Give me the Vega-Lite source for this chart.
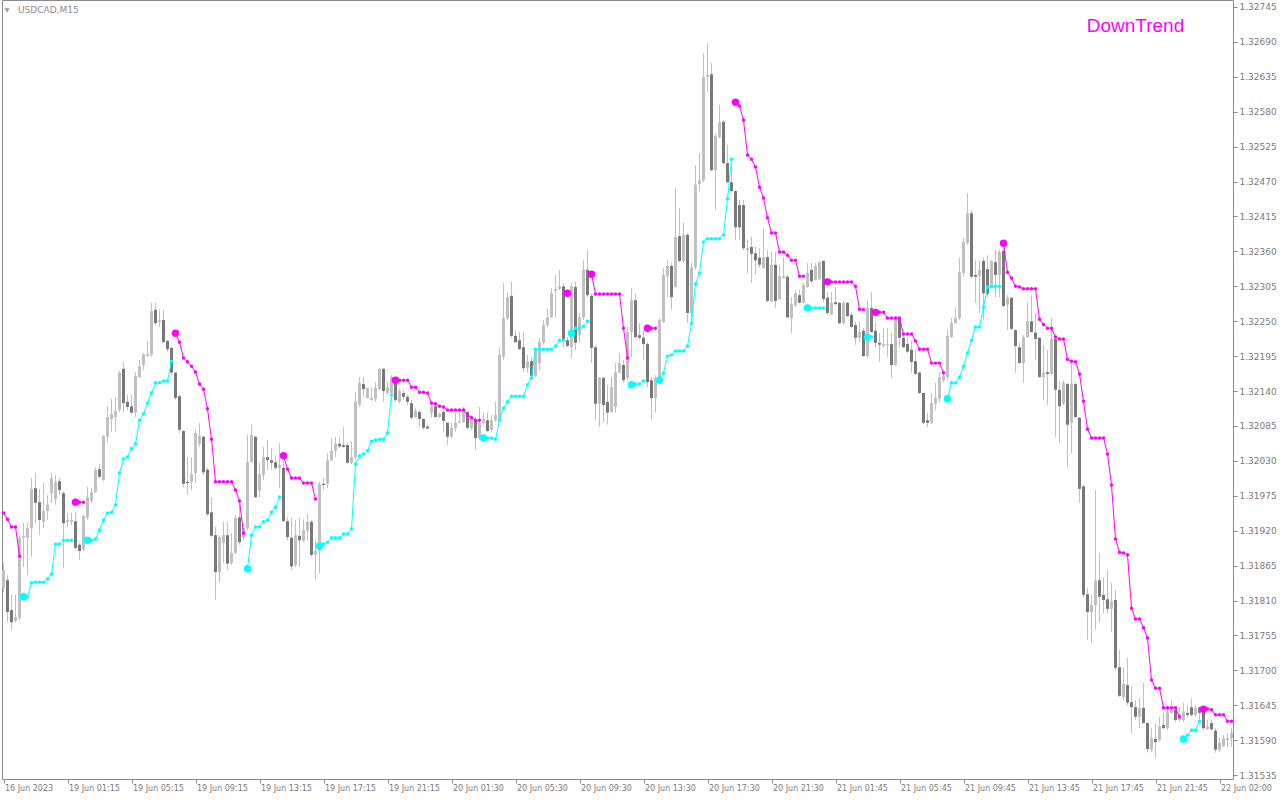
{
"$schema": "https://vega.github.io/schema/vega-lite/v6.json",
"width": 1231, "height": 779,
"autosize": "none",
"padding": {"left": 2, "top": 0, "right": 47, "bottom": 21},
"background": "#ffffff",
"config": {"view": {"stroke": "#8a8a8a", "strokeWidth": 1}, "axis": {"grid": false, "domain": false}},
"datasets": {"k": [
{"i":0,"o":1.31830,"h":1.31869,"l":1.31823,"c":1.31858,"v":1.31948,"d":"dn","g":1,"s":0},
{"i":1,"o":1.31842,"h":1.31850,"l":1.31776,"c":1.31792,"v":1.31938,"d":"dn","g":1,"s":0},
{"i":2,"o":1.31795,"h":1.31819,"l":1.31764,"c":1.31776,"v":1.31926,"d":"dn","g":1,"s":0},
{"i":3,"o":1.31778,"h":1.31819,"l":1.31775,"c":1.31784,"v":1.31926,"d":"dn","g":1,"s":0},
{"i":4,"o":1.31783,"h":1.31912,"l":1.31779,"c":1.31909,"v":1.31880,"d":"dn","g":1,"s":0},
{"i":5,"o":1.31909,"h":1.31932,"l":1.31863,"c":1.31912,"v":1.31816,"d":"up","g":2,"s":1},
{"i":6,"o":1.31909,"h":1.31932,"l":1.31850,"c":1.31924,"v":1.31816,"d":"up","g":2,"s":0},
{"i":7,"o":1.31924,"h":1.32003,"l":1.31879,"c":1.31986,"v":1.31838,"d":"up","g":2,"s":0},
{"i":8,"o":1.31987,"h":1.32011,"l":1.31932,"c":1.31964,"v":1.31839,"d":"up","g":2,"s":0},
{"i":9,"o":1.31965,"h":1.31986,"l":1.31913,"c":1.31937,"v":1.31839,"d":"up","g":2,"s":0},
{"i":10,"o":1.31934,"h":1.31995,"l":1.31924,"c":1.31951,"v":1.31839,"d":"up","g":2,"s":0},
{"i":11,"o":1.31951,"h":1.31976,"l":1.31937,"c":1.31961,"v":1.31844,"d":"up","g":2,"s":0},
{"i":12,"o":1.31979,"h":1.32011,"l":1.31964,"c":1.32003,"v":1.31852,"d":"up","g":2,"s":0},
{"i":13,"o":1.31970,"h":1.32008,"l":1.31961,"c":1.31997,"v":1.31899,"d":"up","g":2,"s":0},
{"i":14,"o":1.31998,"h":1.32003,"l":1.31976,"c":1.31984,"v":1.31899,"d":"up","g":2,"s":0},
{"i":15,"o":1.31979,"h":1.31982,"l":1.31861,"c":1.31932,"v":1.31905,"d":"up","g":2,"s":0},
{"i":16,"o":1.31934,"h":1.31948,"l":1.31926,"c":1.31937,"v":1.31905,"d":"up","g":2,"s":0},
{"i":17,"o":1.31934,"h":1.31948,"l":1.31929,"c":1.31937,"v":1.31905,"d":"up","g":2,"s":0},
{"i":18,"o":1.31935,"h":1.31949,"l":1.31890,"c":1.31893,"v":1.31965,"d":"dn","g":3,"s":1},
{"i":19,"o":1.31898,"h":1.31901,"l":1.31874,"c":1.31888,"v":1.31965,"d":"dn","g":3,"s":0},
{"i":20,"o":1.31890,"h":1.31945,"l":1.31888,"c":1.31943,"v":1.31965,"d":"dn","g":3,"s":0},
{"i":21,"o":1.31941,"h":1.31989,"l":1.31937,"c":1.31973,"v":1.31905,"d":"up","g":4,"s":1},
{"i":22,"o":1.31967,"h":1.31987,"l":1.31964,"c":1.31981,"v":1.31905,"d":"up","g":4,"s":0},
{"i":23,"o":1.31981,"h":1.32020,"l":1.31979,"c":1.32016,"v":1.31907,"d":"up","g":4,"s":0},
{"i":24,"o":1.32017,"h":1.32025,"l":1.32003,"c":1.32005,"v":1.31921,"d":"up","g":4,"s":0},
{"i":25,"o":1.32000,"h":1.32071,"l":1.31998,"c":1.32069,"v":1.31937,"d":"up","g":4,"s":0},
{"i":26,"o":1.32068,"h":1.32116,"l":1.32060,"c":1.32099,"v":1.31948,"d":"up","g":4,"s":0},
{"i":27,"o":1.32096,"h":1.32128,"l":1.32076,"c":1.32104,"v":1.31949,"d":"up","g":4,"s":0},
{"i":28,"o":1.32099,"h":1.32131,"l":1.32076,"c":1.32109,"v":1.31961,"d":"up","g":4,"s":0},
{"i":29,"o":1.32110,"h":1.32172,"l":1.32107,"c":1.32169,"v":1.32011,"d":"up","g":4,"s":0},
{"i":30,"o":1.32175,"h":1.32186,"l":1.32106,"c":1.32121,"v":1.32033,"d":"up","g":4,"s":0},
{"i":31,"o":1.32123,"h":1.32134,"l":1.32110,"c":1.32115,"v":1.32036,"d":"up","g":4,"s":0},
{"i":32,"o":1.32116,"h":1.32134,"l":1.32104,"c":1.32106,"v":1.32049,"d":"up","g":4,"s":0},
{"i":33,"o":1.32106,"h":1.32170,"l":1.32099,"c":1.32164,"v":1.32057,"d":"up","g":4,"s":0},
{"i":34,"o":1.32162,"h":1.32189,"l":1.32161,"c":1.32179,"v":1.32094,"d":"up","g":4,"s":0},
{"i":35,"o":1.32181,"h":1.32200,"l":1.32173,"c":1.32198,"v":1.32104,"d":"up","g":4,"s":0},
{"i":36,"o":1.32195,"h":1.32220,"l":1.32194,"c":1.32198,"v":1.32121,"d":"up","g":4,"s":0},
{"i":37,"o":1.32197,"h":1.32279,"l":1.32194,"c":1.32266,"v":1.32137,"d":"up","g":4,"s":0},
{"i":38,"o":1.32268,"h":1.32279,"l":1.32244,"c":1.32247,"v":1.32153,"d":"up","g":4,"s":0},
{"i":39,"o":1.32249,"h":1.32268,"l":1.32241,"c":1.32252,"v":1.32153,"d":"up","g":4,"s":0},
{"i":40,"o":1.32252,"h":1.32268,"l":1.32216,"c":1.32217,"v":1.32156,"d":"up","g":4,"s":0},
{"i":41,"o":1.32219,"h":1.32220,"l":1.32202,"c":1.32206,"v":1.32156,"d":"up","g":4,"s":0},
{"i":42,"o":1.32208,"h":1.32209,"l":1.32165,"c":1.32169,"v":1.32187,"d":"up","g":4,"s":0},
{"i":43,"o":1.32169,"h":1.32170,"l":1.32126,"c":1.32129,"v":1.32231,"d":"dn","g":5,"s":1},
{"i":44,"o":1.32132,"h":1.32134,"l":1.32074,"c":1.32079,"v":1.32217,"d":"dn","g":5,"s":0},
{"i":45,"o":1.32077,"h":1.32079,"l":1.31989,"c":1.31994,"v":1.32192,"d":"dn","g":5,"s":0},
{"i":46,"o":1.31997,"h":1.32036,"l":1.31976,"c":1.31995,"v":1.32186,"d":"dn","g":5,"s":0},
{"i":47,"o":1.31997,"h":1.32036,"l":1.31984,"c":1.32009,"v":1.32179,"d":"dn","g":5,"s":0},
{"i":48,"o":1.32011,"h":1.32079,"l":1.31995,"c":1.32074,"v":1.32170,"d":"dn","g":5,"s":0},
{"i":49,"o":1.32057,"h":1.32090,"l":1.32052,"c":1.32069,"v":1.32151,"d":"dn","g":5,"s":0},
{"i":50,"o":1.32068,"h":1.32070,"l":1.32008,"c":1.32012,"v":1.32143,"d":"dn","g":5,"s":0},
{"i":51,"o":1.32016,"h":1.32019,"l":1.31943,"c":1.31946,"v":1.32112,"d":"dn","g":5,"s":0},
{"i":52,"o":1.31949,"h":1.31973,"l":1.31910,"c":1.31912,"v":1.32064,"d":"dn","g":5,"s":0},
{"i":53,"o":1.31913,"h":1.31926,"l":1.31811,"c":1.31855,"v":1.31997,"d":"dn","g":5,"s":0},
{"i":54,"o":1.31855,"h":1.31912,"l":1.31838,"c":1.31910,"v":1.31997,"d":"dn","g":5,"s":0},
{"i":55,"o":1.31901,"h":1.31934,"l":1.31869,"c":1.31913,"v":1.31997,"d":"dn","g":5,"s":0},
{"i":56,"o":1.31913,"h":1.31934,"l":1.31858,"c":1.31868,"v":1.31997,"d":"dn","g":5,"s":0},
{"i":57,"o":1.31869,"h":1.31916,"l":1.31866,"c":1.31885,"v":1.31997,"d":"dn","g":5,"s":0},
{"i":58,"o":1.31885,"h":1.31945,"l":1.31883,"c":1.31940,"v":1.31984,"d":"dn","g":5,"s":0},
{"i":59,"o":1.31941,"h":1.31961,"l":1.31898,"c":1.31902,"v":1.31967,"d":"dn","g":5,"s":0},
{"i":60,"o":1.31909,"h":1.31932,"l":1.31905,"c":1.31924,"v":1.31916,"d":"dn","g":5,"s":0},
{"i":61,"o":1.31924,"h":1.32071,"l":1.31921,"c":1.32028,"v":1.31860,"d":"up","g":6,"s":1},
{"i":62,"o":1.32028,"h":1.32087,"l":1.32027,"c":1.32071,"v":1.31913,"d":"up","g":6,"s":0},
{"i":63,"o":1.32068,"h":1.32070,"l":1.31971,"c":1.31973,"v":1.31926,"d":"up","g":6,"s":0},
{"i":64,"o":1.31983,"h":1.32027,"l":1.31973,"c":1.32009,"v":1.31926,"d":"up","g":6,"s":0},
{"i":65,"o":1.32008,"h":1.32052,"l":1.32000,"c":1.32036,"v":1.31934,"d":"up","g":6,"s":0},
{"i":66,"o":1.32036,"h":1.32063,"l":1.32016,"c":1.32031,"v":1.31937,"d":"up","g":6,"s":0},
{"i":67,"o":1.32031,"h":1.32050,"l":1.32016,"c":1.32027,"v":1.31949,"d":"up","g":6,"s":0},
{"i":68,"o":1.32028,"h":1.32039,"l":1.32016,"c":1.32019,"v":1.31957,"d":"up","g":6,"s":0},
{"i":69,"o":1.32019,"h":1.32058,"l":1.31987,"c":1.32024,"v":1.31973,"d":"up","g":6,"s":0},
{"i":70,"o":1.32019,"h":1.32031,"l":1.31934,"c":1.31935,"v":1.32038,"d":"dn","g":7,"s":1},
{"i":71,"o":1.31935,"h":1.31941,"l":1.31905,"c":1.31910,"v":1.32017,"d":"dn","g":7,"s":0},
{"i":72,"o":1.31909,"h":1.31941,"l":1.31858,"c":1.31864,"v":1.32003,"d":"dn","g":7,"s":0},
{"i":73,"o":1.31866,"h":1.31937,"l":1.31863,"c":1.31913,"v":1.32003,"d":"dn","g":7,"s":0},
{"i":74,"o":1.31912,"h":1.31941,"l":1.31863,"c":1.31905,"v":1.32003,"d":"dn","g":7,"s":0},
{"i":75,"o":1.31904,"h":1.31938,"l":1.31902,"c":1.31921,"v":1.31995,"d":"dn","g":7,"s":0},
{"i":76,"o":1.31920,"h":1.31946,"l":1.31905,"c":1.31934,"v":1.31995,"d":"dn","g":7,"s":0},
{"i":77,"o":1.31934,"h":1.31937,"l":1.31879,"c":1.31882,"v":1.31995,"d":"dn","g":7,"s":0},
{"i":78,"o":1.31882,"h":1.31905,"l":1.31842,"c":1.31888,"v":1.31970,"d":"dn","g":7,"s":0},
{"i":79,"o":1.31888,"h":1.31997,"l":1.31853,"c":1.31994,"v":1.31896,"d":"up","g":8,"s":1},
{"i":80,"o":1.31994,"h":1.32003,"l":1.31984,"c":1.31992,"v":1.31899,"d":"up","g":8,"s":0},
{"i":81,"o":1.31994,"h":1.32042,"l":1.31987,"c":1.32031,"v":1.31902,"d":"up","g":8,"s":0},
{"i":82,"o":1.32031,"h":1.32066,"l":1.32030,"c":1.32046,"v":1.31909,"d":"up","g":8,"s":0},
{"i":83,"o":1.32046,"h":1.32068,"l":1.32036,"c":1.32057,"v":1.31909,"d":"up","g":8,"s":0},
{"i":84,"o":1.32057,"h":1.32068,"l":1.32050,"c":1.32053,"v":1.31909,"d":"up","g":8,"s":0},
{"i":85,"o":1.32055,"h":1.32083,"l":1.32051,"c":1.32052,"v":1.31915,"d":"up","g":8,"s":0},
{"i":86,"o":1.32055,"h":1.32058,"l":1.32025,"c":1.32027,"v":1.31915,"d":"up","g":8,"s":0},
{"i":87,"o":1.32027,"h":1.32060,"l":1.32025,"c":1.32036,"v":1.31923,"d":"up","g":8,"s":0},
{"i":88,"o":1.32036,"h":1.32138,"l":1.32031,"c":1.32123,"v":1.32025,"d":"up","g":8,"s":0},
{"i":89,"o":1.32118,"h":1.32162,"l":1.32115,"c":1.32153,"v":1.32038,"d":"up","g":8,"s":0},
{"i":90,"o":1.32151,"h":1.32162,"l":1.32131,"c":1.32143,"v":1.32041,"d":"up","g":8,"s":0},
{"i":91,"o":1.32129,"h":1.32146,"l":1.32128,"c":1.32145,"v":1.32046,"d":"up","g":8,"s":0},
{"i":92,"o":1.32126,"h":1.32146,"l":1.32125,"c":1.32129,"v":1.32061,"d":"up","g":8,"s":0},
{"i":93,"o":1.32128,"h":1.32154,"l":1.32123,"c":1.32145,"v":1.32063,"d":"up","g":8,"s":0},
{"i":94,"o":1.32143,"h":1.32176,"l":1.32142,"c":1.32175,"v":1.32064,"d":"up","g":8,"s":0},
{"i":95,"o":1.32175,"h":1.32176,"l":1.32123,"c":1.32140,"v":1.32064,"d":"up","g":8,"s":0},
{"i":96,"o":1.32137,"h":1.32154,"l":1.32134,"c":1.32146,"v":1.32074,"d":"up","g":8,"s":0},
{"i":97,"o":1.32137,"h":1.32165,"l":1.32123,"c":1.32162,"v":1.32134,"d":"up","g":8,"s":0},
{"i":98,"o":1.32161,"h":1.32162,"l":1.32123,"c":1.32126,"v":1.32157,"d":"dn","g":9,"s":1},
{"i":99,"o":1.32123,"h":1.32145,"l":1.32121,"c":1.32140,"v":1.32157,"d":"dn","g":9,"s":0},
{"i":100,"o":1.32137,"h":1.32142,"l":1.32126,"c":1.32131,"v":1.32157,"d":"dn","g":9,"s":0},
{"i":101,"o":1.32131,"h":1.32134,"l":1.32118,"c":1.32123,"v":1.32157,"d":"dn","g":9,"s":0},
{"i":102,"o":1.32121,"h":1.32126,"l":1.32094,"c":1.32098,"v":1.32146,"d":"dn","g":9,"s":0},
{"i":103,"o":1.32099,"h":1.32113,"l":1.32098,"c":1.32109,"v":1.32146,"d":"dn","g":9,"s":0},
{"i":104,"o":1.32107,"h":1.32110,"l":1.32083,"c":1.32096,"v":1.32138,"d":"dn","g":9,"s":0},
{"i":105,"o":1.32096,"h":1.32098,"l":1.32079,"c":1.32082,"v":1.32138,"d":"dn","g":9,"s":0},
{"i":106,"o":1.32084,"h":1.32087,"l":1.32080,"c":1.32081,"v":1.32137,"d":"dn","g":9,"s":0},
{"i":107,"o":1.32106,"h":1.32121,"l":1.32098,"c":1.32115,"v":1.32121,"d":"dn","g":9,"s":0},
{"i":108,"o":1.32116,"h":1.32121,"l":1.32098,"c":1.32099,"v":1.32120,"d":"dn","g":9,"s":0},
{"i":109,"o":1.32099,"h":1.32106,"l":1.32098,"c":1.32104,"v":1.32116,"d":"dn","g":9,"s":0},
{"i":110,"o":1.32107,"h":1.32113,"l":1.32076,"c":1.32093,"v":1.32115,"d":"dn","g":9,"s":0},
{"i":111,"o":1.32090,"h":1.32091,"l":1.32055,"c":1.32068,"v":1.32110,"d":"dn","g":9,"s":0},
{"i":112,"o":1.32068,"h":1.32090,"l":1.32066,"c":1.32082,"v":1.32110,"d":"dn","g":9,"s":0},
{"i":113,"o":1.32082,"h":1.32106,"l":1.32076,"c":1.32090,"v":1.32110,"d":"dn","g":9,"s":0},
{"i":114,"o":1.32090,"h":1.32106,"l":1.32089,"c":1.32092,"v":1.32110,"d":"dn","g":9,"s":0},
{"i":115,"o":1.32091,"h":1.32115,"l":1.32090,"c":1.32107,"v":1.32110,"d":"dn","g":9,"s":0},
{"i":116,"o":1.32107,"h":1.32108,"l":1.32081,"c":1.32082,"v":1.32102,"d":"dn","g":9,"s":0},
{"i":117,"o":1.32082,"h":1.32102,"l":1.32079,"c":1.32096,"v":1.32098,"d":"dn","g":9,"s":0},
{"i":118,"o":1.32094,"h":1.32099,"l":1.32047,"c":1.32066,"v":1.32094,"d":"dn","g":9,"s":0},
{"i":119,"o":1.32066,"h":1.32115,"l":1.32063,"c":1.32090,"v":1.32094,"d":"dn","g":9,"s":0},
{"i":120,"o":1.32090,"h":1.32106,"l":1.32089,"c":1.32096,"v":1.32066,"d":"up","g":10,"s":1},
{"i":121,"o":1.32094,"h":1.32106,"l":1.32076,"c":1.32077,"v":1.32066,"d":"up","g":10,"s":0},
{"i":122,"o":1.32079,"h":1.32102,"l":1.32076,"c":1.32094,"v":1.32066,"d":"up","g":10,"s":0},
{"i":123,"o":1.32094,"h":1.32123,"l":1.32091,"c":1.32102,"v":1.32064,"d":"up","g":10,"s":0},
{"i":124,"o":1.32094,"h":1.32209,"l":1.32091,"c":1.32197,"v":1.32094,"d":"up","g":10,"s":0},
{"i":125,"o":1.32194,"h":1.32310,"l":1.32189,"c":1.32255,"v":1.32113,"d":"up","g":10,"s":0},
{"i":126,"o":1.32255,"h":1.32296,"l":1.32252,"c":1.32288,"v":1.32123,"d":"up","g":10,"s":0},
{"i":127,"o":1.32290,"h":1.32312,"l":1.32224,"c":1.32227,"v":1.32132,"d":"up","g":10,"s":0},
{"i":128,"o":1.32227,"h":1.32236,"l":1.32216,"c":1.32217,"v":1.32132,"d":"up","g":10,"s":0},
{"i":129,"o":1.32220,"h":1.32233,"l":1.32205,"c":1.32206,"v":1.32132,"d":"up","g":10,"s":0},
{"i":130,"o":1.32209,"h":1.32233,"l":1.32170,"c":1.32176,"v":1.32132,"d":"up","g":10,"s":0},
{"i":131,"o":1.32176,"h":1.32197,"l":1.32169,"c":1.32187,"v":1.32150,"d":"up","g":10,"s":0},
{"i":132,"o":1.32187,"h":1.32194,"l":1.32161,"c":1.32164,"v":1.32161,"d":"up","g":10,"s":0},
{"i":133,"o":1.32164,"h":1.32208,"l":1.32162,"c":1.32205,"v":1.32206,"d":"up","g":10,"s":0},
{"i":134,"o":1.32184,"h":1.32224,"l":1.32173,"c":1.32217,"v":1.32206,"d":"up","g":10,"s":0},
{"i":135,"o":1.32216,"h":1.32252,"l":1.32213,"c":1.32244,"v":1.32206,"d":"up","g":10,"s":0},
{"i":136,"o":1.32244,"h":1.32271,"l":1.32241,"c":1.32256,"v":1.32206,"d":"up","g":10,"s":0},
{"i":137,"o":1.32256,"h":1.32302,"l":1.32255,"c":1.32294,"v":1.32206,"d":"up","g":10,"s":0},
{"i":138,"o":1.32298,"h":1.32323,"l":1.32256,"c":1.32301,"v":1.32211,"d":"up","g":10,"s":0},
{"i":139,"o":1.32301,"h":1.32331,"l":1.32299,"c":1.32305,"v":1.32220,"d":"up","g":10,"s":0},
{"i":140,"o":1.32305,"h":1.32310,"l":1.32209,"c":1.32220,"v":1.32220,"d":"up","g":10,"s":0},
{"i":141,"o":1.32220,"h":1.32225,"l":1.32209,"c":1.32211,"v":1.32294,"d":"dn","g":11,"s":1},
{"i":142,"o":1.32209,"h":1.32310,"l":1.32192,"c":1.32305,"v":1.32231,"d":"up","g":12,"s":1},
{"i":143,"o":1.32304,"h":1.32312,"l":1.32205,"c":1.32216,"v":1.32239,"d":"up","g":12,"s":0},
{"i":144,"o":1.32228,"h":1.32263,"l":1.32216,"c":1.32256,"v":1.32239,"d":"up","g":12,"s":0},
{"i":145,"o":1.32256,"h":1.32346,"l":1.32252,"c":1.32331,"v":1.32242,"d":"up","g":12,"s":0},
{"i":146,"o":1.32331,"h":1.32362,"l":1.32288,"c":1.32291,"v":1.32250,"d":"up","g":12,"s":0},
{"i":147,"o":1.32290,"h":1.32294,"l":1.32184,"c":1.32208,"v":1.32324,"d":"dn","g":13,"s":1},
{"i":148,"o":1.32209,"h":1.32213,"l":1.32094,"c":1.32120,"v":1.32293,"d":"dn","g":13,"s":0},
{"i":149,"o":1.32120,"h":1.32162,"l":1.32083,"c":1.32161,"v":1.32293,"d":"dn","g":13,"s":0},
{"i":150,"o":1.32161,"h":1.32162,"l":1.32091,"c":1.32118,"v":1.32293,"d":"dn","g":13,"s":0},
{"i":151,"o":1.32123,"h":1.32150,"l":1.32087,"c":1.32106,"v":1.32293,"d":"dn","g":13,"s":0},
{"i":152,"o":1.32107,"h":1.32162,"l":1.32106,"c":1.32146,"v":1.32293,"d":"dn","g":13,"s":0},
{"i":153,"o":1.32115,"h":1.32184,"l":1.32106,"c":1.32170,"v":1.32293,"d":"dn","g":13,"s":0},
{"i":154,"o":1.32169,"h":1.32200,"l":1.32168,"c":1.32184,"v":1.32293,"d":"dn","g":13,"s":0},
{"i":155,"o":1.32181,"h":1.32189,"l":1.32153,"c":1.32157,"v":1.32239,"d":"dn","g":13,"s":0},
{"i":156,"o":1.32161,"h":1.32241,"l":1.32157,"c":1.32233,"v":1.32192,"d":"dn","g":13,"s":0},
{"i":157,"o":1.32233,"h":1.32302,"l":1.32194,"c":1.32283,"v":1.32150,"d":"up","g":14,"s":1},
{"i":158,"o":1.32283,"h":1.32294,"l":1.32224,"c":1.32225,"v":1.32151,"d":"up","g":14,"s":0},
{"i":159,"o":1.32228,"h":1.32247,"l":1.32220,"c":1.32224,"v":1.32151,"d":"up","g":14,"s":0},
{"i":160,"o":1.32224,"h":1.32236,"l":1.32189,"c":1.32214,"v":1.32156,"d":"up","g":14,"s":0},
{"i":161,"o":1.32214,"h":1.32217,"l":1.32146,"c":1.32154,"v":1.32239,"d":"dn","g":15,"s":1},
{"i":162,"o":1.32157,"h":1.32162,"l":1.32094,"c":1.32129,"v":1.32239,"d":"dn","g":15,"s":0},
{"i":163,"o":1.32129,"h":1.32165,"l":1.32106,"c":1.32161,"v":1.32239,"d":"dn","g":15,"s":0},
{"i":164,"o":1.32161,"h":1.32255,"l":1.32157,"c":1.32252,"v":1.32157,"d":"up","g":16,"s":1},
{"i":165,"o":1.32249,"h":1.32334,"l":1.32247,"c":1.32323,"v":1.32168,"d":"up","g":16,"s":0},
{"i":166,"o":1.32321,"h":1.32346,"l":1.32288,"c":1.32337,"v":1.32195,"d":"up","g":16,"s":0},
{"i":167,"o":1.32337,"h":1.32342,"l":1.32268,"c":1.32288,"v":1.32197,"d":"up","g":16,"s":0},
{"i":168,"o":1.32304,"h":1.32460,"l":1.32302,"c":1.32383,"v":1.32203,"d":"up","g":16,"s":0},
{"i":169,"o":1.32384,"h":1.32428,"l":1.32342,"c":1.32345,"v":1.32203,"d":"up","g":16,"s":0},
{"i":170,"o":1.32345,"h":1.32405,"l":1.32342,"c":1.32386,"v":1.32203,"d":"up","g":16,"s":0},
{"i":171,"o":1.32386,"h":1.32389,"l":1.32247,"c":1.32263,"v":1.32211,"d":"up","g":16,"s":0},
{"i":172,"o":1.32263,"h":1.32342,"l":1.32247,"c":1.32335,"v":1.32247,"d":"up","g":16,"s":0},
{"i":173,"o":1.32335,"h":1.32496,"l":1.32331,"c":1.32465,"v":1.32309,"d":"up","g":16,"s":0},
{"i":174,"o":1.32466,"h":1.32515,"l":1.32454,"c":1.32472,"v":1.32326,"d":"up","g":16,"s":0},
{"i":175,"o":1.32472,"h":1.32672,"l":1.32469,"c":1.32635,"v":1.32375,"d":"up","g":16,"s":0},
{"i":176,"o":1.32635,"h":1.32688,"l":1.32611,"c":1.32638,"v":1.32380,"d":"up","g":16,"s":0},
{"i":177,"o":1.32639,"h":1.32657,"l":1.32486,"c":1.32488,"v":1.32380,"d":"up","g":16,"s":0},
{"i":178,"o":1.32488,"h":1.32546,"l":1.32425,"c":1.32542,"v":1.32380,"d":"up","g":16,"s":0},
{"i":179,"o":1.32540,"h":1.32591,"l":1.32538,"c":1.32564,"v":1.32380,"d":"up","g":16,"s":0},
{"i":180,"o":1.32564,"h":1.32567,"l":1.32497,"c":1.32499,"v":1.32386,"d":"up","g":16,"s":0},
{"i":181,"o":1.32499,"h":1.32528,"l":1.32467,"c":1.32469,"v":1.32443,"d":"up","g":16,"s":0},
{"i":182,"o":1.32469,"h":1.32499,"l":1.32452,"c":1.32455,"v":1.32505,"d":"up","g":16,"s":0},
{"i":183,"o":1.32455,"h":1.32457,"l":1.32378,"c":1.32398,"v":1.32595,"d":"dn","g":17,"s":1},
{"i":184,"o":1.32433,"h":1.32441,"l":1.32378,"c":1.32398,"v":1.32589,"d":"dn","g":17,"s":0},
{"i":185,"o":1.32433,"h":1.32441,"l":1.32362,"c":1.32365,"v":1.32567,"d":"dn","g":17,"s":0},
{"i":186,"o":1.32362,"h":1.32378,"l":1.32326,"c":1.32365,"v":1.32512,"d":"dn","g":17,"s":0},
{"i":187,"o":1.32367,"h":1.32383,"l":1.32310,"c":1.32356,"v":1.32505,"d":"dn","g":17,"s":0},
{"i":188,"o":1.32357,"h":1.32367,"l":1.32323,"c":1.32346,"v":1.32493,"d":"dn","g":17,"s":0},
{"i":189,"o":1.32350,"h":1.32365,"l":1.32334,"c":1.32339,"v":1.32461,"d":"dn","g":17,"s":0},
{"i":190,"o":1.32334,"h":1.32397,"l":1.32333,"c":1.32351,"v":1.32444,"d":"dn","g":17,"s":0},
{"i":191,"o":1.32351,"h":1.32362,"l":1.32280,"c":1.32282,"v":1.32413,"d":"dn","g":17,"s":0},
{"i":192,"o":1.32282,"h":1.32359,"l":1.32280,"c":1.32339,"v":1.32389,"d":"dn","g":17,"s":0},
{"i":193,"o":1.32339,"h":1.32359,"l":1.32271,"c":1.32282,"v":1.32389,"d":"dn","g":17,"s":0},
{"i":194,"o":1.32285,"h":1.32339,"l":1.32283,"c":1.32321,"v":1.32359,"d":"dn","g":17,"s":0},
{"i":195,"o":1.32318,"h":1.32351,"l":1.32317,"c":1.32321,"v":1.32359,"d":"dn","g":17,"s":0},
{"i":196,"o":1.32320,"h":1.32323,"l":1.32255,"c":1.32256,"v":1.32354,"d":"dn","g":17,"s":0},
{"i":197,"o":1.32255,"h":1.32288,"l":1.32231,"c":1.32277,"v":1.32346,"d":"dn","g":17,"s":0},
{"i":198,"o":1.32275,"h":1.32299,"l":1.32272,"c":1.32294,"v":1.32346,"d":"dn","g":17,"s":0},
{"i":199,"o":1.32291,"h":1.32299,"l":1.32278,"c":1.32279,"v":1.32321,"d":"dn","g":17,"s":0},
{"i":200,"o":1.32279,"h":1.32310,"l":1.32278,"c":1.32307,"v":1.32321,"d":"dn","g":17,"s":0},
{"i":201,"o":1.32304,"h":1.32342,"l":1.32302,"c":1.32326,"v":1.32271,"d":"up","g":18,"s":1},
{"i":202,"o":1.32331,"h":1.32342,"l":1.32310,"c":1.32313,"v":1.32271,"d":"up","g":18,"s":0},
{"i":203,"o":1.32315,"h":1.32342,"l":1.32314,"c":1.32337,"v":1.32271,"d":"up","g":18,"s":0},
{"i":204,"o":1.32316,"h":1.32345,"l":1.32315,"c":1.32343,"v":1.32271,"d":"up","g":18,"s":0},
{"i":205,"o":1.32345,"h":1.32346,"l":1.32280,"c":1.32285,"v":1.32271,"d":"up","g":18,"s":0},
{"i":206,"o":1.32287,"h":1.32296,"l":1.32260,"c":1.32263,"v":1.32312,"d":"dn","g":19,"s":1},
{"i":207,"o":1.32261,"h":1.32296,"l":1.32260,"c":1.32279,"v":1.32312,"d":"dn","g":19,"s":0},
{"i":208,"o":1.32280,"h":1.32304,"l":1.32275,"c":1.32277,"v":1.32312,"d":"dn","g":19,"s":0},
{"i":209,"o":1.32279,"h":1.32280,"l":1.32245,"c":1.32247,"v":1.32312,"d":"dn","g":19,"s":0},
{"i":210,"o":1.32247,"h":1.32281,"l":1.32245,"c":1.32279,"v":1.32312,"d":"dn","g":19,"s":0},
{"i":211,"o":1.32279,"h":1.32280,"l":1.32256,"c":1.32258,"v":1.32312,"d":"dn","g":19,"s":0},
{"i":212,"o":1.32260,"h":1.32264,"l":1.32240,"c":1.32241,"v":1.32312,"d":"dn","g":19,"s":0},
{"i":213,"o":1.32244,"h":1.32249,"l":1.32213,"c":1.32224,"v":1.32305,"d":"dn","g":19,"s":0},
{"i":214,"o":1.32224,"h":1.32249,"l":1.32217,"c":1.32233,"v":1.32269,"d":"dn","g":19,"s":0},
{"i":215,"o":1.32235,"h":1.32239,"l":1.32194,"c":1.32195,"v":1.32268,"d":"dn","g":19,"s":0},
{"i":216,"o":1.32195,"h":1.32283,"l":1.32192,"c":1.32271,"v":1.32225,"d":"up","g":20,"s":1},
{"i":217,"o":1.32271,"h":1.32296,"l":1.32232,"c":1.32233,"v":1.32225,"d":"up","g":20,"s":0},
{"i":218,"o":1.32235,"h":1.32249,"l":1.32209,"c":1.32216,"v":1.32264,"d":"dn","g":21,"s":1},
{"i":219,"o":1.32216,"h":1.32232,"l":1.32186,"c":1.32213,"v":1.32264,"d":"dn","g":21,"s":0},
{"i":220,"o":1.32211,"h":1.32239,"l":1.32209,"c":1.32214,"v":1.32264,"d":"dn","g":21,"s":0},
{"i":221,"o":1.32212,"h":1.32239,"l":1.32194,"c":1.32214,"v":1.32255,"d":"dn","g":21,"s":0},
{"i":222,"o":1.32214,"h":1.32232,"l":1.32161,"c":1.32181,"v":1.32255,"d":"dn","g":21,"s":0},
{"i":223,"o":1.32181,"h":1.32257,"l":1.32179,"c":1.32255,"v":1.32255,"d":"dn","g":21,"s":0},
{"i":224,"o":1.32255,"h":1.32257,"l":1.32208,"c":1.32224,"v":1.32255,"d":"dn","g":21,"s":0},
{"i":225,"o":1.32224,"h":1.32232,"l":1.32208,"c":1.32209,"v":1.32230,"d":"dn","g":21,"s":0},
{"i":226,"o":1.32214,"h":1.32225,"l":1.32200,"c":1.32202,"v":1.32230,"d":"dn","g":21,"s":0},
{"i":227,"o":1.32205,"h":1.32220,"l":1.32169,"c":1.32186,"v":1.32230,"d":"dn","g":21,"s":0},
{"i":228,"o":1.32187,"h":1.32205,"l":1.32165,"c":1.32167,"v":1.32219,"d":"dn","g":21,"s":0},
{"i":229,"o":1.32169,"h":1.32170,"l":1.32135,"c":1.32137,"v":1.32206,"d":"dn","g":21,"s":0},
{"i":230,"o":1.32137,"h":1.32138,"l":1.32088,"c":1.32090,"v":1.32206,"d":"dn","g":21,"s":0},
{"i":231,"o":1.32094,"h":1.32106,"l":1.32083,"c":1.32090,"v":1.32206,"d":"dn","g":21,"s":0},
{"i":232,"o":1.32090,"h":1.32137,"l":1.32088,"c":1.32121,"v":1.32184,"d":"dn","g":21,"s":0},
{"i":233,"o":1.32120,"h":1.32153,"l":1.32110,"c":1.32129,"v":1.32184,"d":"dn","g":21,"s":0},
{"i":234,"o":1.32128,"h":1.32169,"l":1.32123,"c":1.32162,"v":1.32184,"d":"dn","g":21,"s":0},
{"i":235,"o":1.32157,"h":1.32170,"l":1.32154,"c":1.32164,"v":1.32169,"d":"dn","g":21,"s":0},
{"i":236,"o":1.32162,"h":1.32236,"l":1.32157,"c":1.32227,"v":1.32128,"d":"up","g":22,"s":1},
{"i":237,"o":1.32225,"h":1.32255,"l":1.32224,"c":1.32247,"v":1.32153,"d":"up","g":22,"s":0},
{"i":238,"o":1.32247,"h":1.32272,"l":1.32246,"c":1.32255,"v":1.32153,"d":"up","g":22,"s":0},
{"i":239,"o":1.32255,"h":1.32350,"l":1.32252,"c":1.32327,"v":1.32162,"d":"up","g":22,"s":0},
{"i":240,"o":1.32326,"h":1.32381,"l":1.32320,"c":1.32375,"v":1.32179,"d":"up","g":22,"s":0},
{"i":241,"o":1.32373,"h":1.32452,"l":1.32370,"c":1.32420,"v":1.32200,"d":"up","g":22,"s":0},
{"i":242,"o":1.32420,"h":1.32425,"l":1.32318,"c":1.32320,"v":1.32220,"d":"up","g":22,"s":0},
{"i":243,"o":1.32323,"h":1.32346,"l":1.32279,"c":1.32320,"v":1.32241,"d":"up","g":22,"s":0},
{"i":244,"o":1.32321,"h":1.32346,"l":1.32263,"c":1.32331,"v":1.32241,"d":"up","g":22,"s":0},
{"i":245,"o":1.32345,"h":1.32350,"l":1.32252,"c":1.32294,"v":1.32272,"d":"up","g":22,"s":0},
{"i":246,"o":1.32332,"h":1.32354,"l":1.32288,"c":1.32293,"v":1.32304,"d":"up","g":22,"s":0},
{"i":247,"o":1.32305,"h":1.32346,"l":1.32304,"c":1.32345,"v":1.32304,"d":"up","g":22,"s":0},
{"i":248,"o":1.32343,"h":1.32362,"l":1.32288,"c":1.32323,"v":1.32305,"d":"up","g":22,"s":0},
{"i":249,"o":1.32323,"h":1.32362,"l":1.32288,"c":1.32359,"v":1.32305,"d":"up","g":22,"s":0},
{"i":250,"o":1.32361,"h":1.32365,"l":1.32272,"c":1.32274,"v":1.32373,"d":"dn","g":23,"s":1},
{"i":251,"o":1.32276,"h":1.32291,"l":1.32236,"c":1.32287,"v":1.32327,"d":"dn","g":23,"s":0},
{"i":252,"o":1.32287,"h":1.32288,"l":1.32236,"c":1.32238,"v":1.32318,"d":"dn","g":23,"s":0},
{"i":253,"o":1.32236,"h":1.32237,"l":1.32169,"c":1.32211,"v":1.32305,"d":"dn","g":23,"s":0},
{"i":254,"o":1.32209,"h":1.32216,"l":1.32183,"c":1.32184,"v":1.32304,"d":"dn","g":23,"s":0},
{"i":255,"o":1.32184,"h":1.32228,"l":1.32153,"c":1.32225,"v":1.32301,"d":"dn","g":23,"s":0},
{"i":256,"o":1.32225,"h":1.32279,"l":1.32224,"c":1.32250,"v":1.32301,"d":"dn","g":23,"s":0},
{"i":257,"o":1.32250,"h":1.32291,"l":1.32232,"c":1.32233,"v":1.32301,"d":"dn","g":23,"s":0},
{"i":258,"o":1.32232,"h":1.32263,"l":1.32189,"c":1.32222,"v":1.32301,"d":"dn","g":23,"s":0},
{"i":259,"o":1.32224,"h":1.32225,"l":1.32161,"c":1.32162,"v":1.32253,"d":"dn","g":23,"s":0},
{"i":260,"o":1.32162,"h":1.32213,"l":1.32126,"c":1.32169,"v":1.32245,"d":"dn","g":23,"s":0},
{"i":261,"o":1.32170,"h":1.32205,"l":1.32118,"c":1.32167,"v":1.32239,"d":"dn","g":23,"s":0},
{"i":262,"o":1.32167,"h":1.32255,"l":1.32165,"c":1.32222,"v":1.32239,"d":"dn","g":23,"s":0},
{"i":263,"o":1.32222,"h":1.32225,"l":1.32068,"c":1.32142,"v":1.32225,"d":"dn","g":23,"s":0},
{"i":264,"o":1.32142,"h":1.32157,"l":1.32058,"c":1.32116,"v":1.32222,"d":"dn","g":23,"s":0},
{"i":265,"o":1.32120,"h":1.32157,"l":1.32118,"c":1.32153,"v":1.32222,"d":"dn","g":23,"s":0},
{"i":266,"o":1.32151,"h":1.32153,"l":1.32020,"c":1.32087,"v":1.32190,"d":"dn","g":23,"s":0},
{"i":267,"o":1.32090,"h":1.32184,"l":1.32042,"c":1.32151,"v":1.32187,"d":"dn","g":23,"s":0},
{"i":268,"o":1.32151,"h":1.32153,"l":1.32098,"c":1.32099,"v":1.32186,"d":"dn","g":23,"s":0},
{"i":269,"o":1.32098,"h":1.32099,"l":1.31964,"c":1.31986,"v":1.32167,"d":"dn","g":23,"s":0},
{"i":270,"o":1.31990,"h":1.31992,"l":1.31815,"c":1.31819,"v":1.32124,"d":"dn","g":23,"s":0},
{"i":271,"o":1.31820,"h":1.31830,"l":1.31748,"c":1.31792,"v":1.32080,"d":"dn","g":23,"s":0},
{"i":272,"o":1.31792,"h":1.31819,"l":1.31743,"c":1.31803,"v":1.32066,"d":"dn","g":23,"s":0},
{"i":273,"o":1.31803,"h":1.31984,"l":1.31764,"c":1.31842,"v":1.32066,"d":"dn","g":23,"s":0},
{"i":274,"o":1.31842,"h":1.31885,"l":1.31775,"c":1.31816,"v":1.32066,"d":"dn","g":23,"s":0},
{"i":275,"o":1.31819,"h":1.31846,"l":1.31790,"c":1.31811,"v":1.32066,"d":"dn","g":23,"s":0},
{"i":276,"o":1.31812,"h":1.31858,"l":1.31790,"c":1.31797,"v":1.32041,"d":"dn","g":23,"s":0},
{"i":277,"o":1.31797,"h":1.31838,"l":1.31761,"c":1.31809,"v":1.31992,"d":"dn","g":23,"s":0},
{"i":278,"o":1.31811,"h":1.31827,"l":1.31700,"c":1.31704,"v":1.31907,"d":"dn","g":23,"s":0},
{"i":279,"o":1.31705,"h":1.31732,"l":1.31658,"c":1.31660,"v":1.31886,"d":"dn","g":23,"s":0},
{"i":280,"o":1.31658,"h":1.31705,"l":1.31653,"c":1.31679,"v":1.31885,"d":"dn","g":23,"s":0},
{"i":281,"o":1.31677,"h":1.31720,"l":1.31645,"c":1.31649,"v":1.31882,"d":"dn","g":23,"s":0},
{"i":282,"o":1.31650,"h":1.31674,"l":1.31601,"c":1.31642,"v":1.31798,"d":"dn","g":23,"s":0},
{"i":283,"o":1.31642,"h":1.31653,"l":1.31622,"c":1.31627,"v":1.31781,"d":"dn","g":23,"s":0},
{"i":284,"o":1.31627,"h":1.31656,"l":1.31609,"c":1.31641,"v":1.31781,"d":"dn","g":23,"s":0},
{"i":285,"o":1.31641,"h":1.31680,"l":1.31616,"c":1.31617,"v":1.31767,"d":"dn","g":23,"s":0},
{"i":286,"o":1.31617,"h":1.31619,"l":1.31571,"c":1.31576,"v":1.31751,"d":"dn","g":23,"s":0},
{"i":287,"o":1.31575,"h":1.31609,"l":1.31571,"c":1.31593,"v":1.31685,"d":"dn","g":23,"s":0},
{"i":288,"o":1.31592,"h":1.31617,"l":1.31562,"c":1.31587,"v":1.31672,"d":"dn","g":23,"s":0},
{"i":289,"o":1.31590,"h":1.31627,"l":1.31587,"c":1.31612,"v":1.31672,"d":"dn","g":23,"s":0},
{"i":290,"o":1.31614,"h":1.31633,"l":1.31608,"c":1.31609,"v":1.31641,"d":"dn","g":23,"s":0},
{"i":291,"o":1.31609,"h":1.31642,"l":1.31606,"c":1.31634,"v":1.31641,"d":"dn","g":23,"s":0},
{"i":292,"o":1.31633,"h":1.31653,"l":1.31632,"c":1.31638,"v":1.31641,"d":"dn","g":23,"s":0},
{"i":293,"o":1.31638,"h":1.31642,"l":1.31619,"c":1.31622,"v":1.31641,"d":"dn","g":23,"s":0},
{"i":294,"o":1.31622,"h":1.31642,"l":1.31619,"c":1.31630,"v":1.31627,"d":"dn","g":23,"s":0},
{"i":295,"o":1.31622,"h":1.31649,"l":1.31619,"c":1.31634,"v":1.31592,"d":"up","g":24,"s":1},
{"i":296,"o":1.31633,"h":1.31645,"l":1.31627,"c":1.31630,"v":1.31598,"d":"up","g":24,"s":0},
{"i":297,"o":1.31642,"h":1.31656,"l":1.31627,"c":1.31630,"v":1.31606,"d":"up","g":24,"s":0},
{"i":298,"o":1.31630,"h":1.31645,"l":1.31627,"c":1.31641,"v":1.31606,"d":"up","g":24,"s":0},
{"i":299,"o":1.31642,"h":1.31643,"l":1.31622,"c":1.31633,"v":1.31620,"d":"up","g":24,"s":0},
{"i":300,"o":1.31638,"h":1.31641,"l":1.31606,"c":1.31609,"v":1.31639,"d":"dn","g":25,"s":1},
{"i":301,"o":1.31607,"h":1.31622,"l":1.31606,"c":1.31612,"v":1.31639,"d":"dn","g":25,"s":0},
{"i":302,"o":1.31617,"h":1.31622,"l":1.31606,"c":1.31607,"v":1.31638,"d":"dn","g":25,"s":0},
{"i":303,"o":1.31605,"h":1.31609,"l":1.31570,"c":1.31575,"v":1.31630,"d":"dn","g":25,"s":0},
{"i":304,"o":1.31575,"h":1.31595,"l":1.31571,"c":1.31586,"v":1.31630,"d":"dn","g":25,"s":0},
{"i":305,"o":1.31581,"h":1.31598,"l":1.31579,"c":1.31593,"v":1.31630,"d":"dn","g":25,"s":0},
{"i":306,"o":1.31590,"h":1.31601,"l":1.31579,"c":1.31593,"v":1.31620,"d":"dn","g":25,"s":0},
{"i":307,"o":1.31593,"h":1.31609,"l":1.31579,"c":1.31601,"v":1.31620,"d":"dn","g":25,"s":0}
]},
"encoding": {
  "x": {"field": "i", "type": "quantitative", "title": null,
    "scale": {"domain": [-0.375, 307.375], "nice": false, "zero": false, "padding": 0},
    "axis": {"values": [0,16,32,48,64,80,96,112,128,144,160,176,192,208,224,240,256,272,288,304],
      "labelExpr": "['16 Jun 2023','19 Jun 01:15','19 Jun 05:15','19 Jun 09:15','19 Jun 13:15','19 Jun 17:15','19 Jun 21:15','20 Jun 01:30','20 Jun 05:30','20 Jun 09:30','20 Jun 13:30','20 Jun 17:30','20 Jun 21:30','21 Jun 01:45','21 Jun 05:45','21 Jun 09:45','21 Jun 13:45','21 Jun 17:45','21 Jun 21:45','22 Jun 02:00'][round(datum.value/16)]",
      "labelAlign": "left", "labelOffset": 1, "labelFont": "DejaVu Sans", "labelFontSize": 8, "labelColor": "#7a7a7a",
      "tickSize": 4, "tickColor": "#8a8a8a", "labelPadding": 1, "labelFlush": false, "labelOverlap": false, "labelBound": false}},
  "y": {"field": "l", "type": "quantitative", "title": null,
    "scale": {"domain": [1.315289, 1.32756], "nice": false, "zero": false, "padding": 0},
    "axis": {"orient": "right", "values": [1.31535,1.3159,1.31645,1.317,1.31755,1.3181,1.31865,1.3192,1.31975,1.3203,1.32085,1.3214,1.32195,1.3225,1.32305,1.3236,1.32415,1.3247,1.32525,1.3258,1.32635,1.3269,1.32745],
      "format": ".5f", "labelFont": "DejaVu Sans", "labelFontSize": 9, "labelColor": "#7a7a7a",
      "tickSize": 4, "tickColor": "#8a8a8a", "labelPadding": 2, "labelFlush": false, "labelOverlap": false, "labelBound": false}}
},
"layer": [
  {"data": {"name": "k"},
   "mark": {"type": "rule", "color": "#c0c0c0", "strokeWidth": 1},
   "encoding": {"y2": {"field": "h"}}},
  {"data": {"name": "k"},
   "mark": {"type": "bar", "width": 3, "yOffset": 0},
   "encoding": {
     "y": {"field": "o", "type": "quantitative", "title": null},
     "y2": {"field": "c"},
     "fill": {"condition": {"test": "datum.c > datum.o", "value": "#c0c0c0"}, "value": "#787878"}}},
  {"data": {"name": "k"},
   "mark": {"type": "line", "strokeWidth": 1},
   "encoding": {
     "y": {"field": "v", "type": "quantitative", "title": null},
     "color": {"field": "d", "type": "nominal", "scale": {"domain": ["dn", "up"], "range": ["#ff00ff", "#00ffff"]}, "legend": null},
     "detail": {"field": "g", "type": "nominal"}}},
  {"data": {"name": "k"},
   "mark": {"type": "point", "filled": true, "size": 12, "opacity": 1},
   "encoding": {
     "y": {"field": "v", "type": "quantitative", "title": null},
     "color": {"field": "d", "type": "nominal", "scale": {"domain": ["dn", "up"], "range": ["#ff00ff", "#00ffff"]}, "legend": null}}},
  {"data": {"name": "k"},
   "transform": [{"filter": "datum.s == 1"}],
   "mark": {"type": "point", "filled": true, "size": 55, "opacity": 1},
   "encoding": {
     "y": {"field": "v", "type": "quantitative", "title": null},
     "color": {"field": "d", "type": "nominal", "scale": {"domain": ["dn", "up"], "range": ["#ff00ff", "#00ffff"]}, "legend": null}}},
  {"data": {"values": [{"i": 283, "p": 1.32715, "t": "DownTrend"}]},
   "mark": {"type": "text", "font": "Liberation Sans", "fontSize": 19, "color": "#ff00ff", "align": "center", "baseline": "middle"},
   "encoding": {
     "y": {"field": "p", "type": "quantitative", "title": null},
     "text": {"field": "t"}}},
  {"data": {"values": [{"i": 3.625, "p": 1.32740, "t": "USDCAD,M15"}]},
   "mark": {"type": "text", "font": "DejaVu Sans", "fontSize": 9, "color": "#8c8c8c", "align": "left", "baseline": "middle"},
   "encoding": {
     "y": {"field": "p", "type": "quantitative", "title": null},
     "text": {"field": "t"}}},
  {"data": {"values": [{"i": 0.875, "p": 1.32741, "t": "▼"}]},
   "mark": {"type": "text", "font": "DejaVu Sans", "fontSize": 6, "color": "#9a9a9a", "align": "center", "baseline": "middle"},
   "encoding": {
     "y": {"field": "p", "type": "quantitative", "title": null},
     "text": {"field": "t"}}}
]
}
